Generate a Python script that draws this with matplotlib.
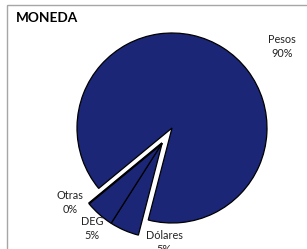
import numpy as np
import matplotlib
matplotlib.use('Agg')
import matplotlib.pyplot as plt
from matplotlib.patches import Rectangle

plt.rcParams['font.family'] = ['Lato', 'DejaVu Sans']

# data
labels = ['Pesos', 'Dólares', 'DEG', 'Otras']
shares = [90, 5, 5, 0]
pct_text = ['90%', '5%', '5%', '0%']

navy = '#1b2677'

fig = plt.figure(figsize=(3.07, 2.49), dpi=100)
ax = fig.add_axes([0, 0, 1, 1])

wedges, _ = ax.pie(shares, startangle=219.5, counterclock=False,
                   colors=[navy] * 4, radius=1.0,
                   wedgeprops=dict(edgecolor='black', linewidth=0.9))

# the small slices are pulled out together toward the lower left
ang = np.deg2rad(237)
off = 0.19
for w in wedges[1:]:
    w.set_center((off * np.cos(ang), off * np.sin(ang)))
wedges[3].set_linewidth(1.6)

# label positions (data units, radius = 1)
lab_pos = [(1.158, 0.858), (-0.084, -1.205), (-0.842, -1.058), (-1.074, -0.784)]
for lab, pct, (x, y) in zip(labels, pct_text, lab_pos):
    ax.text(x, y, lab + '\n' + pct, ha='center', va='center',
            fontsize=7.8, color='#222222', linespacing=1.4)

ax.set_xlim(-172 / 95, (307 - 172) / 95)
ax.set_ylim((128 - 249) / 95, 128 / 95)
ax.set_aspect('auto')
ax.axis('off')

fig.text(16 / 307, 1 - 18.5 / 249, 'MONEDA', fontsize=9.8, fontweight='bold',
         ha='left', va='center', color='black')

fig.patches.append(Rectangle((6.5 / 307, -0.1), 1.0, 1 - 5.5 / 249 + 0.1,
                             transform=fig.transFigure, fill=False,
                             edgecolor='#a6a6a6', linewidth=1.0))

fig.savefig('out.png', dpi=100)
